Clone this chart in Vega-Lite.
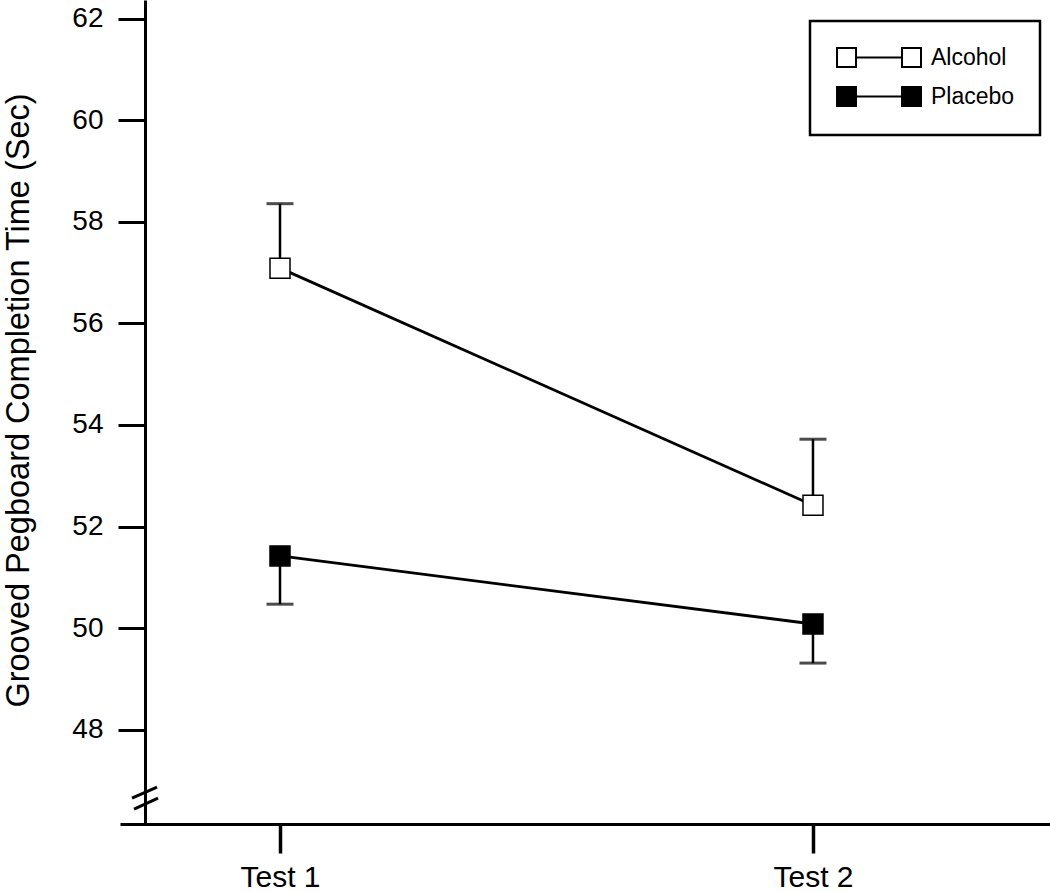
{
  "$schema": "https://vega.github.io/schema/vega-lite/v6.json",
  "width": 930,
  "height": 824,
  "autosize": "none",
  "padding": {"left": 120, "top": 0, "right": 0, "bottom": 68},
  "background": "white",
  "config": {
    "view": {"stroke": null},
    "font": "Liberation Sans",
    "axis": {"grid": false, "domainColor": "black", "tickColor": "black", "labelColor": "black", "titleColor": "black", "labelFont": "Liberation Sans", "titleFont": "Liberation Sans", "titleFontWeight": "normal"},
    "legend": {"labelFont": "Liberation Sans", "strokeWidth": 2.5}
  },
  "datasets": {
    "means": [
      {"group": "Alcohol", "test": 1, "mean": 57.09, "err": 58.36},
      {"group": "Alcohol", "test": 2, "mean": 52.42, "err": 53.72},
      {"group": "Placebo", "test": 1, "mean": 51.42, "err": 50.47},
      {"group": "Placebo", "test": 2, "mean": 50.08, "err": 49.31}
    ],
    "brk": [
      {"x": 0.7223, "x2": 0.7692, "y": 46.649, "y2": 46.865},
      {"x": 0.7261, "x2": 0.7711, "y": 46.434, "y2": 46.649}
    ]
  },
  "layer": [
    {
      "data": {"name": "means"},
      "mark": {"type": "line", "color": "black", "strokeWidth": 2.8},
      "encoding": {
        "x": {"field": "test", "type": "quantitative", "scale": {"domain": [0.6998, 2.4447], "nice": false, "zero": false},
          "axis": {"values": [1, 2], "labelExpr": "'Test ' + datum.value", "title": null, "domainWidth": 3, "tickSize": 29, "tickWidth": 3.5, "labelFontSize": 30, "labelPadding": 9}},
        "y": {"field": "mean", "type": "quantitative", "scale": {"domain": [46.14, 62.372], "nice": false, "zero": false},
          "axis": {"values": [48, 50, 52, 54, 56, 58, 60, 62], "offset": -25, "title": "Grooved Pegboard Completion Time (Sec)", "titleFontSize": 32.5, "titlePadding": 36, "titleY": 400, "domainWidth": 3, "tickSize": 27, "tickWidth": 3, "labelFontSize": 28, "labelPadding": 15}},
        "detail": {"field": "group"}
      }
    },
    {
      "data": {"name": "means"},
      "mark": {"type": "rule", "color": "black", "strokeWidth": 2.5},
      "encoding": {
        "x": {"field": "test", "type": "quantitative"},
        "y": {"field": "mean", "type": "quantitative"},
        "y2": {"field": "err"}
      }
    },
    {
      "data": {"name": "means"},
      "mark": {"type": "tick", "orient": "horizontal", "color": "black", "size": 27, "thickness": 3},
      "encoding": {
        "x": {"field": "test", "type": "quantitative"},
        "y": {"field": "err", "type": "quantitative"}
      }
    },
    {
      "data": {"name": "means"},
      "mark": {"type": "point", "shape": "square", "filled": true, "size": 400, "stroke": "black", "strokeWidth": 1.5, "opacity": 1},
      "encoding": {
        "x": {"field": "test", "type": "quantitative"},
        "y": {"field": "mean", "type": "quantitative"},
        "fill": {"field": "group", "type": "nominal", "scale": {"domain": ["Alcohol", "Placebo"], "range": ["white", "black"]},
          "legend": {"title": null, "orient": "none", "legendX": 690, "legendY": 21, "strokeColor": "black", "padding": 25, "fillColor": "white",
            "symbolType": "M-7.84,-1H-5.84V1H-7.84Z M-5.84,0H-1 M-1,-1H1V1H-1Z", "symbolSize": 361, "symbolOffset": 65, "symbolStrokeColor": "black", "symbolStrokeWidth": 2, "symbolOpacity": 1,
            "labelFontSize": 23, "labelOffset": 8, "rowPadding": 12, "labelColor": "black"}}
      }
    },
    {
      "data": {"name": "brk"},
      "mark": {"type": "rule", "color": "black", "strokeWidth": 3},
      "encoding": {
        "x": {"field": "x", "type": "quantitative"},
        "x2": {"field": "x2"},
        "y": {"field": "y", "type": "quantitative"},
        "y2": {"field": "y2"}
      }
    }
  ]
}
